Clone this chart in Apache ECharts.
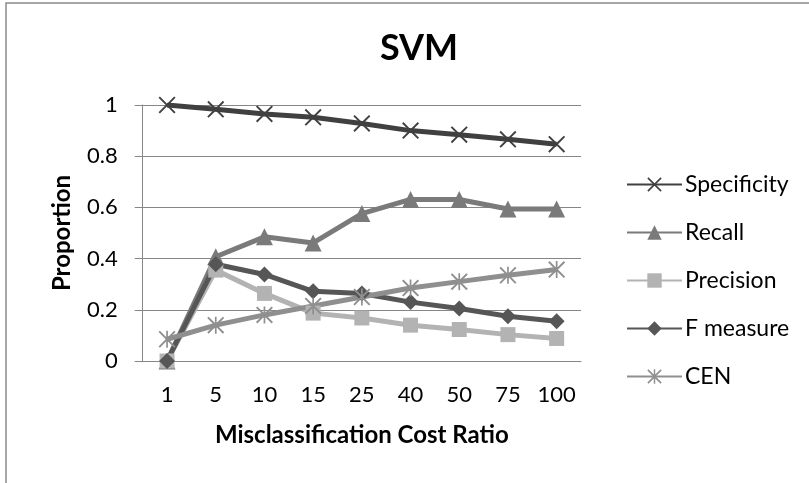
<!DOCTYPE html>
<html>
<head>
<meta charset="utf-8">
<script src="https://cdn.jsdelivr.net/npm/echarts@6/dist/echarts.min.js"></script>
<style>
  html, body { margin: 0; padding: 0; background: #fff; }
  #chart { width: 809px; height: 483px; }
</style>
</head>
<body>
<div id="chart"></div>
<script>
// Misclassification cost ratios (categories)
const costRatios = ['1', '5', '10', '15', '25', '40', '50', '75', '100'];

// Metric values per cost ratio
const specificity = [1.0, 0.983, 0.965, 0.952, 0.928, 0.9, 0.884, 0.866, 0.847];
const recall      = [0.0, 0.407, 0.485, 0.461, 0.576, 0.631, 0.631, 0.594, 0.594];
const precision   = [0.0, 0.355, 0.264, 0.187, 0.168, 0.14, 0.123, 0.103, 0.088];
const fMeasure    = [0.0, 0.378, 0.338, 0.272, 0.264, 0.23, 0.205, 0.175, 0.155];
const cen         = [0.085, 0.14, 0.18, 0.215, 0.25, 0.285, 0.31, 0.335, 0.357];

const seriesNames = ['Specificity', 'Recall', 'Precision', 'F measure', 'CEN'];
const yTicks = [0, 0.2, 0.4, 0.6, 0.8, 1];

const FONT = 'Lato, "Open Sans", sans-serif';

// Marker shapes: a thin X and an asterisk (X plus vertical stroke)
const crossPath = 'path://M0,0.8 L0.8,0 L5,4.2 L9.2,0 L10,0.8 L5.8,5 L10,9.2 L9.2,10 L5,5.8 L0.8,10 L0,9.2 L4.2,5 Z';
const starPath = 'path://M0,0.8 L0.8,0 L5,4.2 L9.2,0 L10,0.8 L5.8,5 L10,9.2 L9.2,10 L5,5.8 L0.8,10 L0,9.2 L4.2,5 Z M4.5,0 L5.5,0 L5.5,10 L4.5,10 Z';

function lineSeries(name, data, color, symbol, size) {
  return {
    name: name,
    type: 'line',
    data: data,
    symbol: symbol,
    symbolSize: size,
    showAllSymbol: true,
    lineStyle: { color: color, width: 5 },
    itemStyle: { color: color },
    emphasis: { disabled: true },
    z: 3
  };
}

const chart = echarts.init(document.getElementById('chart'), null, { renderer: 'canvas' });

chart.setOption({
  animation: false,
  backgroundColor: '#ffffff',
  textStyle: { fontFamily: FONT },
  graphic: [{
    type: 'rect',
    shape: { x: 6, y: 3, width: 900, height: 600 },
    style: { fill: 'none', stroke: '#8a8a8a', lineWidth: 1.5 },
    silent: true
  }],
  title: {
    text: 'SVM',
    left: 414,
    top: 25,
    textAlign: 'center',
    textStyle: { fontFamily: FONT, fontSize: 36, fontWeight: 'bold', color: '#000' }
  },
  grid: { left: 142.7, right: 228, top: 105, bottom: 122, containLabel: false },
  legend: {
    orient: 'vertical',
    left: 621,
    top: 168,
    itemWidth: 55,
    itemHeight: 18,
    itemGap: 25,
    textStyle: { fontFamily: FONT, fontSize: 23, color: '#000', padding: [0, 0, 0, -2] },
    data: seriesNames
  },
  xAxis: {
    type: 'category',
    data: costRatios,
    boundaryGap: true,
    name: 'Misclassification Cost Ratio',
    nameLocation: 'middle',
    nameGap: 62,
    nameTextStyle: { fontFamily: FONT, fontSize: 24, fontWeight: 'bold', color: '#000' },
    axisLine: { lineStyle: { color: '#868686', width: 1 } },
    axisTick: { show: false },
    axisLabel: { fontFamily: FONT, fontSize: 22, color: '#000', margin: 23, interval: 0 },
    splitLine: { show: false }
  },
  yAxis: {
    type: 'value',
    min: 0,
    max: 1,
    interval: 0.2,
    name: 'Proportion',
    nameLocation: 'middle',
    nameGap: 68,
    nameTextStyle: { fontFamily: FONT, fontSize: 24, fontWeight: 'bold', color: '#000' },
    axisLine: { show: true, lineStyle: { color: '#868686', width: 1 } },
    axisTick: { show: true, inside: false, length: 8, lineStyle: { color: '#868686' } },
    axisLabel: {
      fontFamily: FONT, fontSize: 22, color: '#000', margin: 25,
      formatter: function (v) {
        const t = yTicks.find(function (k) { return Math.abs(k - v) < 1e-9; });
        return t === undefined ? '' : String(t);
      }
    },
    splitLine: { show: true, lineStyle: { color: '#868686', width: 1 } }
  },
  series: [
    lineSeries('Specificity', specificity, '#404040', crossPath, 17),
    lineSeries('Recall', recall, '#7a7a7a', 'triangle', 17),
    lineSeries('Precision', precision, '#b3b3b3', 'rect', 15),
    lineSeries('F measure', fMeasure, '#565656', 'diamond', 16),
    lineSeries('CEN', cen, '#8f8f8f', starPath, 17)
  ]
});
</script>
</body>
</html>
